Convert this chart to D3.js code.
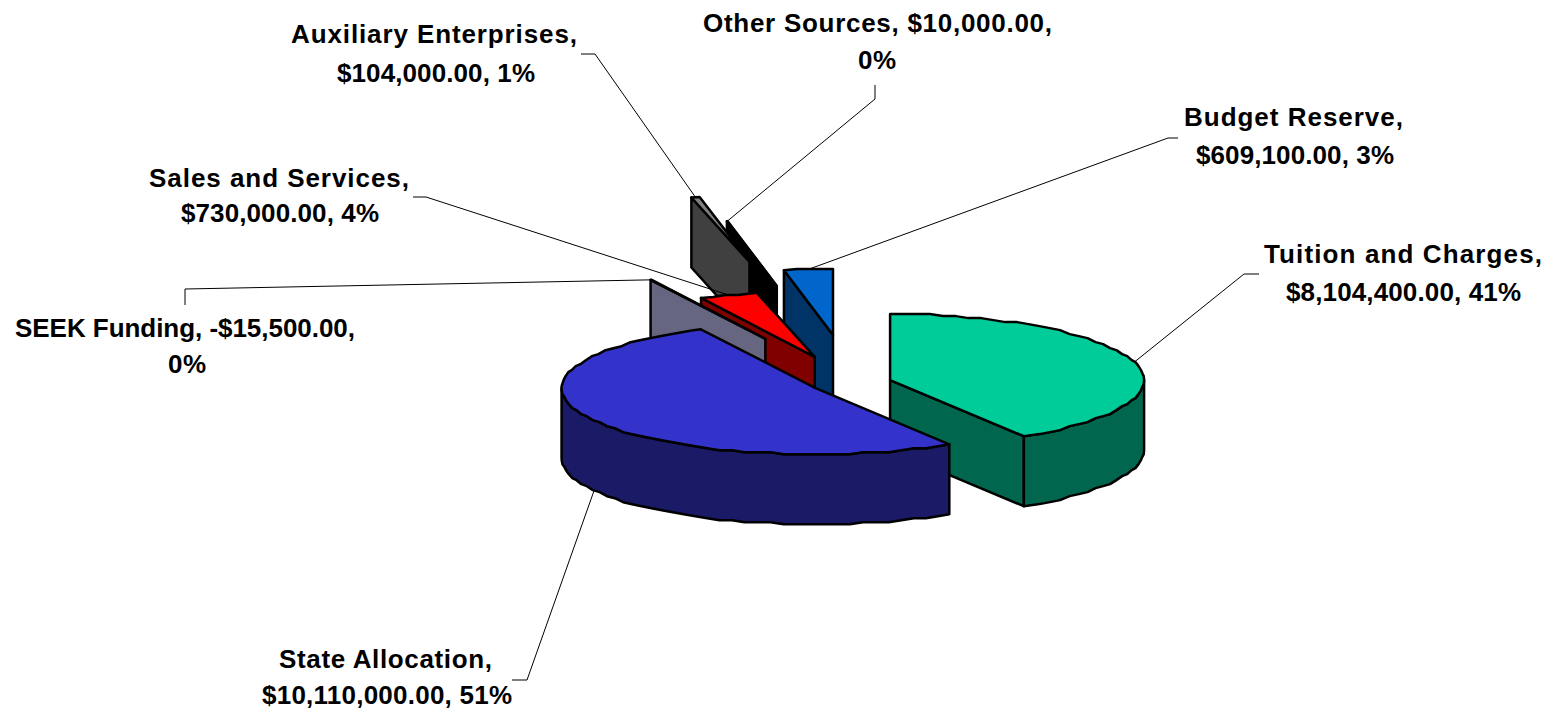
<!DOCTYPE html>
<html>
<head>
<meta charset="utf-8">
<script src="https://cdn.jsdelivr.net/npm/d3@7"></script>
<style>
  html, body { margin: 0; padding: 0; background: #fff; }
  svg { display: block; }
  text { font-family: "Liberation Sans", Arial, sans-serif; font-weight: bold; font-size: 26px; fill: #000; }
</style>
</head>
<body>
<svg id="chart"></svg>
<script>
// chart data, pie order clockwise from 12 o'clock
const categories = ["Tuition and Charges", "State Allocation", "SEEK Funding", "Sales and Services", "Auxiliary Enterprises", "Other Sources", "Budget Reserve"];
const amounts = [8104400, 10110000, -15500, 730000, 104000, 10000, 609100];
// how many words of the label sit on line one
const lineBreaks = [3, 2, 3, 3, 2, 3, 2];

// look of each slice
const explode = [0.16, 0.16, 0.75, 0.42, 1.88, 1.5, 0.73];
const wallDepth = [70, 70, 70, 70, 70, 70, 78];
const topColors = ["#00CC99", "#3333CC", "#CCCCFF", "#FF0000", "#808080", "#000000", "#0066CC"];
const wallColors = ["#00664D", "#1A1A66", "#666680", "#800000", "#404040", "#000000", "#003366"];
const drawOrder = [0, 6, 5, 4, 3, 2, 1];

// label placement, the original text is spaced wider than the font's own widths
const labelX = [[1264, 1286], [279, 262], [15, 168], [149, 181], [291, 337], [703, 858], [1184, 1196]];
const labelY = [[263, 301], [668, 704], [337, 373], [187, 222], [43, 82], [32, 69], [126, 164]];
const labelLength = [[278, 235], [213, 250], [340, 38], [260, 198], [286, 198], [349, 38], [219, 198]];
const leaderBends = [
  [[1244, 274], [1259, 274]],
  [[527, 680], [512, 680]],
  [[185, 289], [185, 305]],
  [[426, 197], [413, 197]],
  [[595, 54], [581, 54]],
  [[875, 99], [875, 85]],
  [[1168, 138], [1178, 138]],
];

const WIDTH = 1556, HEIGHT = 711;
const CENTER_X = 851, CENTER_Y = 383;
const RX = 254, RY = 66;
const STEP = (3 * Math.PI) / 180;
const GRID = 2; // the original rim is drawn on a coarse grid, so it wobbles

const svg = d3.select("#chart").attr("width", WIDTH).attr("height", HEIGHT);

// unit circle -> flattened ellipse
const xScale = d3.scaleLinear().domain([-1, 1]).range([-RX, RX]);
const yScale = d3.scaleLinear().domain([-1, 1]).range([-RY, RY]);

const pie = d3.pie().sort(null).value((d) => Math.abs(d));
const arcs = pie(amounts);
const total = d3.sum(amounts, (d) => Math.abs(d));
const money = d3.format("$,.2f");
const line = d3.line();

const slices = arcs.map((a, i) => {
  const mid = (a.startAngle + a.endAngle) / 2;
  return {
    i,
    start: a.startAngle,
    end: a.endAngle,
    mid,
    depth: wallDepth[i],
    cx: CENTER_X + explode[i] * xScale(Math.sin(mid)),
    cy: CENTER_Y - explode[i] * yScale(Math.cos(mid)),
  };
});

function rimPoint(s, angle) {
  return [s.cx + xScale(Math.sin(angle)), s.cy - yScale(Math.cos(angle))];
}

// points along the rim between two angles, end points exact
function rimPoints(s, from, to) {
  const pts = [rimPoint(s, from)];
  for (let t = from + STEP; t < to - STEP / 2; t += STEP) {
    const p = rimPoint(s, t);
    pts.push([p[0], s.cy + Math.round((p[1] - s.cy) / GRID) * GRID]);
  }
  pts.push(rimPoint(s, to));
  return pts;
}

const chart = svg.append("g");
const wallStyle = (sel, c) => sel.attr("fill", c).attr("stroke", "#000").attr("stroke-width", 2.5).attr("stroke-linejoin", "round");

drawOrder.forEach((i) => {
  const s = slices[i];
  const g = chart.append("g").attr("class", "slice");
  const center = [s.cx, s.cy];

  // radial wall on the side that faces us
  const edges = [];
  if (Math.sin(s.start) < -1e-6) edges.push(s.start);
  if (Math.sin(s.end) > 1e-6) edges.push(s.end);
  edges.forEach((angle) => {
    const p = rimPoint(s, angle);
    g.append("path")
      .attr("d", line([center, p, [p[0], p[1] + s.depth], [s.cx, s.cy + s.depth]]) + "Z")
      .call(wallStyle, wallColors[i]);
  });

  // outer wall, front half of the rim only
  const from = Math.max(s.start, Math.PI / 2);
  const to = Math.min(s.end, (3 * Math.PI) / 2);
  if (to > from) {
    const upper = rimPoints(s, from, to);
    const lower = upper.map((p) => [p[0], p[1] + s.depth]).reverse();
    g.append("path").attr("d", line(upper.concat(lower)) + "Z").call(wallStyle, wallColors[i]);
  }

  // top face
  g.append("path")
    .attr("d", line([center].concat(rimPoints(s, s.start, s.end))) + "Z")
    .call(wallStyle, topColors[i]);
});

// leader lines run from the rim middle of each slice out to the label
slices.forEach((s) => {
  const p = rimPoint(s, s.mid);
  const front = s.i === 1; // state allocation leaves from the bottom of its wall
  const startPt = front ? [p[0], p[1] + s.depth] : p;
  svg.append("path")
    .attr("d", line([startPt].concat(leaderBends[s.i])))
    .attr("fill", "none")
    .attr("stroke", "#000")
    .attr("stroke-width", 1);
});

// labels
categories.forEach((name, i) => {
  const pct = Math.round((Math.abs(amounts[i]) / total) * 100);
  const full = `${name}, ${money(amounts[i]).replace("\u2212", "-")}, ${pct}%`;
  const words = full.split(" ");
  const rows = [words.slice(0, lineBreaks[i]).join(" "), words.slice(lineBreaks[i]).join(" ")];
  rows.forEach((row, r) => {
    svg.append("text")
      .attr("x", labelX[i][r])
      .attr("y", labelY[i][r])
      .attr("textLength", labelLength[i][r])
      .attr("lengthAdjust", "spacing")
      .text(row);
  });
});
</script>
</body>
</html>
